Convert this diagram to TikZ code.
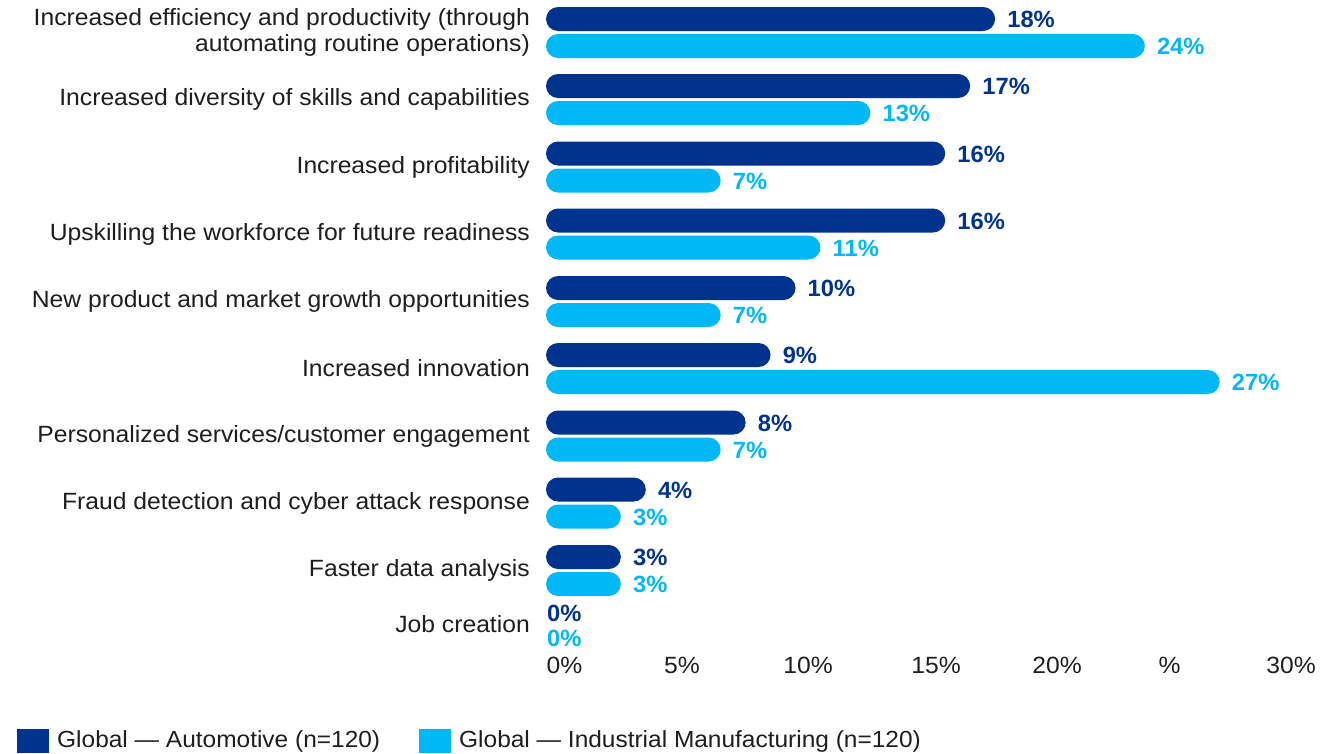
\documentclass[tikz,border=0pt]{standalone}
\usepackage{fontspec}
\setmainfont{Liberation Sans}[FakeStretch=1.05]
\newfontfamily\valfont{Liberation Sans}[FakeStretch=1.01]
\definecolor{navy}{HTML}{00338D}
\definecolor{cyanb}{HTML}{00B8F5}
\definecolor{txt}{HTML}{1E1E1E}
\tikzset{
  cat/.style={anchor=east, inner sep=0pt, text=txt, align=right, font=\fontsize{23.5}{26}\selectfont},
  valdark/.style={anchor=west, inner sep=0pt, text=navy, font=\valfont\fontsize{23.5}{26}\selectfont\bfseries},
  vallight/.style={anchor=west, inner sep=0pt, text=cyanb, font=\valfont\fontsize{23.5}{26}\selectfont\bfseries},
  axlab/.style={anchor=center, inner sep=0pt, text=txt, font=\fontsize{23.5}{26}\selectfont},
  leg/.style={anchor=west, inner sep=0pt, text=txt, font=\fontsize{23.3}{26}\selectfont},
  bardark/.style={fill=navy, rounded corners=12pt},
  barlight/.style={fill=cyanb, rounded corners=12pt},
}
\begin{document}
\begin{tikzpicture}[x=1pt,y=-1pt]
\fill[white] (0,0) rectangle (1337,753);
\useasboundingbox (0,0) rectangle (1337,753);
% groups: index/label/dark/light/top
\foreach \i/\lab/\d/\l/\t in {
  1/{Increased efficiency and productivity (through\\automating routine operations)}/18/24/7,
  2/{Increased diversity of skills and capabilities}/17/13/74,
  3/{Increased profitability}/16/7/141.5,
  4/{Upskilling the workforce for future readiness}/16/11/208.5,
  5/{New product and market growth opportunities}/10/7/276,
  6/{Increased innovation}/9/27/343,
  7/{Personalized services/customer engagement}/8/7/410.5,
  8/{Fraud detection and cyber attack response}/4/3/477.5,
  9/{Faster data analysis}/3/3/545}{
  \fill[bardark] (546,\t) rectangle ({546+24.95*\d},{\t+24});
  \fill[barlight] (546,{\t+27}) rectangle ({546+24.95*\l},{\t+51});
  \node[valdark] (vd\i) at ({546+24.95*\d+12},{\t+12.5}) {\d\%};
  \node[vallight] (vl\i) at ({546+24.95*\l+12},{\t+39.5}) {\l\%};
  \node[cat] (c\i) at (530,{\t+25.5}) {\lab};
}
% zero group
\node[cat] (c10) at (530,624) {Job creation};
\node[valdark] (vd10) at (547,613) {0\%};
\node[vallight] (vl10) at (547,638.5) {0\%};
% axis labels
\node[axlab] (a0) at (564.5,665) {0\%};
\node[axlab] (a5) at (682,665) {5\%};
\node[axlab] (a10) at (808,665) {10\%};
\node[axlab] (a15) at (936,665) {15\%};
\node[axlab] (a20) at (1057,665) {20\%};
\node[axlab] (a25) at (1169.5,665) {\%};
\node[axlab] (a30) at (1291,665) {30\%};
% legend
\fill[navy] (17,729) rectangle (49,753);
\node[leg] (l1) at (57,741) {Global — Automotive (n=120)};
\fill[cyanb] (419,729) rectangle (451,753);
\node[leg] (l2) at (459,741) {Global — Industrial Manufacturing (n=120)};
\end{tikzpicture}
\end{document}
